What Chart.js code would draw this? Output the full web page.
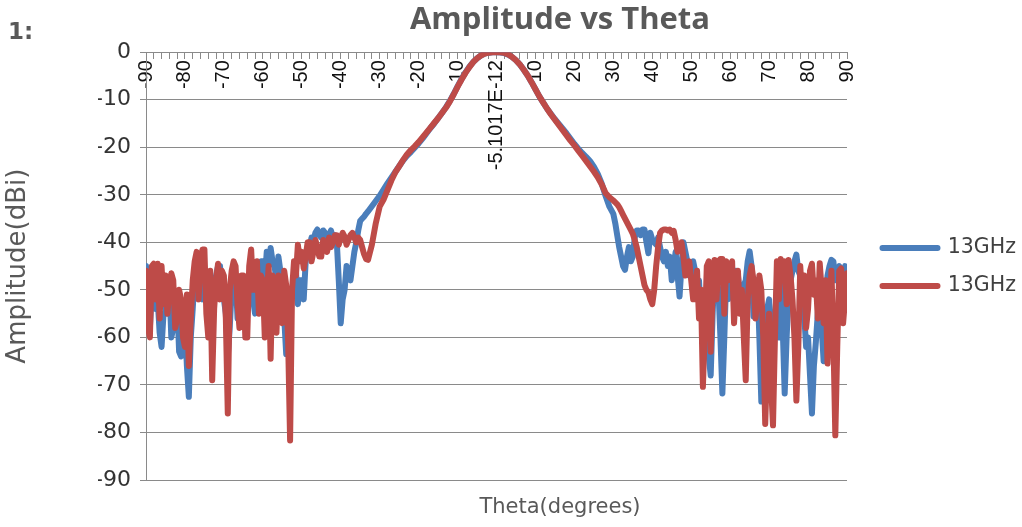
<!DOCTYPE html>
<html><head><meta charset="utf-8">
<script src="https://cdn.jsdelivr.net/npm/chart.js@4.4.0/dist/chart.umd.min.js"></script>
<style>
html,body{margin:0;padding:0;background:#fff;}
#wrap{position:relative;width:1022px;height:527px;}
#num{position:absolute;left:8px;top:20px;font:bold 23px/23px "DejaVu Sans";color:#595959;}
</style></head><body>
<div id="wrap"><canvas id="c" width="1022" height="527"></canvas><div id="num">1:</div></div>
<script>
// Theta (degrees): 0.5° steps in the side-lobe regions, 1° steps across the main lobe
const theta = [
  -90,-89.5,-89,-88.5,-88,-87.5,-87,-86.5,-86,-85.5,-85,-84.5,-84,-83.5,-83,-82.5,-82,-81.5,-81,-80.5,
  -80,-79.5,-79,-78.5,-78,-77.5,-77,-76.5,-76,-75.5,-75,-74.5,-74,-73.5,-73,-72.5,-72,-71.5,-71,-70.5,
  -70,-69.5,-69,-68.5,-68,-67.5,-67,-66.5,-66,-65.5,-65,-64.5,-64,-63.5,-63,-62.5,-62,-61.5,-61,-60.5,
  -60,-59.5,-59,-58.5,-58,-57.5,-57,-56.5,-56,-55.5,-55,-54.5,-54,-53.5,-53,-52.5,-52,-51.5,-51,-50.5,
  -50,-49.5,-49,-48.5,-48,-47.5,-47,-46.5,-46,-45.5,-45,-44.5,-44,-43.5,-43,-42.5,-42,-41.5,-41,-40.5,
  -40,-39.5,-39,-38.5,-38,-37.5,-37,-36.5,-36,-35.5,-35,-34.5,-34,-33.5,
  -33,-32,-31,-30,-29,-28,-27,-26,-25,-24,-23,-22,-21,-20,-19,-18,-17,-16,-15,-14,-13,-12,-11,-10,
  -9,-8,-7,-6,-5,-4,-3,-2,-1,0,1,2,3,4,5,6,7,8,9,10,11,12,13,14,15,16,17,18,19,20,21,22,23,24,25,26,27,28,29,
  30,30.5,31,31.5,32,32.5,33,33.5,34,34.5,35,35.5,36,36.5,37,37.5,38,38.5,39,39.5,
  40,40.5,41,41.5,42,42.5,43,43.5,44,44.5,45,45.5,46,46.5,47,47.5,48,48.5,49,49.5,
  50,50.5,51,51.5,52,52.5,53,53.5,54,54.5,55,55.5,56,56.5,57,57.5,58,58.5,59,59.5,
  60,60.5,61,61.5,62,62.5,63,63.5,64,64.5,65,65.5,66,66.5,67,67.5,68,68.5,69,69.5,
  70,70.5,71,71.5,72,72.5,73,73.5,74,74.5,75,75.5,76,76.5,77,77.5,78,78.5,79,79.5,
  80,80.5,81,81.5,82,82.5,83,83.5,84,84.5,85,85.5,86,86.5,87,87.5,88,88.5,89,89.5,90
];
// Amplitude (dBi), first 13GHz series (blue)
const blue13GHz = [
  -45,-55, -58,-50, -46,-54, -52,-59, -62,-55, -55,-50, -49,-60, -58,-52, -52,-63, -64,-56,
  -57,-66, -72.5,-60, -54,-47, -48,-45, -46,-52, -50,-48, -56,-49, -60,-48, -47,-45, -45,-50,
  -52,-55, -64,-58, -50,-46, -47,-56, -55,-48, -49,-58, -52,-47, -46,-52, -55,-46, -47,-44,
  -44,-48, -42,-45, -41.2,-44, -45,-48, -43,-46, -50,-56, -63.5,-60, -57,-50, -49,-46, -53,-48,
  -48,-52, -44,-42, -41,-39, -39.5,-38, -37.3,-38.5, -39,-37.5, -38,-39, -38.5,-37.5, -39,-38.5, -40,-48,
  -57,-52, -50,-45, -46.4,-48, -45,-42, -40,-37.5, -35.5,-35, -34.6,-34,
  -33.5,-32.4,-31.3,-30.2,-28.9,-27.6,-26.4,-25.2,-24.0,-22.8,
  -21.8,-21.0,-20.1,-19.2,-18.2,-17.1,-16.0,-15.0,-13.9,-12.8,
  -11.6,-10.3,-8.8,-7.2,-5.7,-4.3,-3.1,-2.1,-1.3,-0.7,
  -0.3,-0.1,0,0,-0.05,-0.2,-0.5,-1.0,-1.7,-2.6,
  -3.7,-4.9,-6.3,-7.8,-9.3,-10.6,-11.9,-13.0,-14.1,-15.1,
  -16.1,-17.1,-18.2,-19.3,-20.3,-21.2,-22.0,-22.9,-24.1,-25.6,
  -27.6,-30.2,-32.5,
  -34.0,-36, -38.5,-41, -43.0,-45, -45.8,-43, -41.0,-44, -43.0,-39, -37.5,-37.5, -38.5,-37.3, -37.3,-40, -42.3,-38,
  -39.4,-40, -40.5,-39, -41.0,-43, -44.0,-42, -45.0,-43, -48.0,-45, -42.0,-47, -51.4,-45, -40.0,-42, -44.0,-47,
  -45.0,-44, -46.0,-50, -48.0,-56, -52.0,-62, -58.0,-64, -68.0,-55, -45.0,-48, -50.0,-60, -71.8,-60, -47.0,-52,
  -46.0,-49, -50.0,-46, -47.0,-51, -53.0,-49, -48.0,-44, -41.9,-45, -55.6,-50, -48.0,-60, -73.5,-66, -60.0,-54,
  -52.0,-62, -66.0,-56, -50.0,-60, -45.0,-58, -71.8,-60, -51.0,-48, -46.0,-44, -42.6,-46, -47.0,-52, -55.0,-62,
  -60.0,-68, -76.0,-66, -61.0,-55, -50.0,-58, -65.0,-52, -47.0,-45, -43.7,-44, -48.0,-46, -45.0,-48, -47.0,-45, -49.0
];
// Amplitude (dBi), second 13GHz series (red)
const red13GHz = [
  -46,-58, -60,-45, -44.5,-52, -44.5,-56, -45,-53, -47,-55, -50,-46.5, -48,-58, -56,-50, -52,-60,
  -62,-51, -66,-56, -48,-44, -42,-52, -44,-41.5, -41.5,-55, -60,-46, -69,-54, -48,-44.5, -52,-46,
  -47,-56, -76,-50, -46,-44, -45,-53, -58,-47, -47,-60, -60,-45, -41.5,-50, -50,-44, -55,-47,
  -48,-60, -52,-45, -64.5,-47, -50,-59, -47,-53, -57,-46, -49,-61, -81.7,-50, -44,-47, -40.5,-44,
  -42,-45.5, -43,-40, -40,-44, -42,-39.5, -41,-43, -43,-39.5, -40.5,-42, -39,-41, -40,-38.5, -38.5,-40.5,
  -39,-38, -38.8,-40.5, -39.5,-38.5, -38,-39, -40,-39, -39.5,-41, -42.5,-43.5,
  -43.7,-40.5,-36,-32.5,-31,-29,-27,-25.3,-24.0,-22.7,
  -21.5,-20.6,-19.8,-18.9,-17.9,-16.9,-15.9,-14.9,-13.9,-12.8,
  -11.7,-10.4,-8.9,-7.3,-5.8,-4.4,-3.2,-2.1,-1.3,-0.7,
  -0.3,-0.1,0,0,0,-0.15,-0.45,-1.0,-1.7,-2.6,
  -3.7,-4.9,-6.3,-7.8,-9.3,-10.6,-11.9,-13.1,-14.2,-15.3,
  -16.4,-17.5,-18.6,-19.6,-20.7,-21.8,-22.9,-24.0,-25.1,-26.3,
  -27.8,-29.6,-30.5,
  -31.2,-31.6, -32.0,-32.6, -33.4,-34.2, -35.0,-35.8, -36.6,-37.4, -38.2,-39.5, -41.0,-43, -45.0,-47, -49.0,-50, -50.5,-52,
  -53.0,-50, -45.0,-41, -38.0,-37.5, -37.3,-37.3, -37.5,-37.3, -38.0,-37.6, -39.5,-42, -41.0,-40, -43.0,-47, -45.5,-44,
  -48.0,-52, -52.0,-46, -56.0,-50, -70.4,-58, -45.0,-44, -63.0,-50, -43.7,-52, -44.0,-43.5, -43.5,-55, -44.0,-48,
  -45.0,-44, -57.0,-50, -46.0,-55, -50.0,-60, -69.0,-52, -47.0,-45, -48.0,-56, -52.0,-47, -50.0,-60, -78.2,-65,
  -55.0,-70, -78.5,-60, -44.0,-52, -43.5,-46, -44.0,-53, -43.7,-47, -52.0,-60, -73.3,-62, -45.0,-52, -47.0,-58,
  -54.0,-46, -44.5,-51, -48.0,-56, -44.4,-50, -57.0,-48, -65.5,-55, -46.0,-60, -80.6,-62, -46.0,-45.5, -57.0,-52, -46.5
];
const xTickLabels = ['-90','-80','-70','-60','-50','-40','-30','-20','-10','-5.1017E-12','10','20','30','40','50','60','70','80','90'];
const seriesNames = ['13GHz','13GHz'];
const chartTitle = 'Amplitude vs Theta';
const xTitle = 'Theta(degrees)';
const yTitle = 'Amplitude(dBi)';

const BLUE = '#4A7EBB', RED = '#BE4B48', GRID = '#8a8a8a';
const toXY = vals => theta.map((t, i) => ({x: t, y: vals[i]}));
const lineStyle = {borderWidth: 6, pointRadius: 0, tension: 0, borderJoinStyle: 'round', borderCapStyle: 'round'};

new Chart(document.getElementById('c'), {
  type: 'line',
  data: {
    datasets: [
      Object.assign({label: seriesNames[1], data: toXY(red13GHz), borderColor: RED, backgroundColor: RED}, lineStyle),
      Object.assign({label: seriesNames[0], data: toXY(blue13GHz), borderColor: BLUE, backgroundColor: BLUE}, lineStyle)
    ]
  },
  options: {
    responsive: false, animation: false, devicePixelRatio: 1,
    layout: {padding: {left: 98, right: 0, top: 0, bottom: 0}},
    plugins: {
      title: {display: true, text: chartTitle, color: '#595959', font: {family: 'Open Sans', size: 31, weight: 'bold'}, padding: {top: 2, bottom: 13}},
      subtitle: {display: true, position: 'bottom', text: xTitle, color: '#595959', font: {family: 'DejaVu Sans', size: 21}, padding: {top: 15.4, bottom: 6.4}},
      legend: {
        position: 'right', reverse: true, maxWidth: 157,
        title: {display: true, text: '', font: {size: 5}, padding: {top: 0, bottom: 1}},
        labels: {boxWidth: 55, boxHeight: 0, padding: 17.5, color: '#404040', font: {family: 'DejaVu Sans', size: 20.5}}
      },
      tooltip: {enabled: false}
    },
    scales: {
      x: {
        type: 'linear', position: {y: 0}, min: -90, max: 90,
        ticks: {stepSize: 2, maxTicksLimit: 200, autoSkip: false, minRotation: 90, maxRotation: 90, padding: 2, color: '#111',
          font: {family: 'Liberation Sans', size: 20},
          callback: v => (v % 10 === 0 ? xTickLabels[(v + 90) / 10] : '')},
        grid: {drawOnChartArea: false, tickLength: 6, color: GRID},
        border: {color: GRID}
      },
      y: {
        type: 'linear', position: 'left', min: -90, max: 0,
        ticks: {stepSize: 10, padding: 9, color: '#333', font: {family: 'DejaVu Sans', size: 22}},
        grid: {color: GRID, tickLength: 6},
        border: {color: GRID},
        title: {display: true, text: yTitle, color: '#595959', font: {family: 'DejaVu Sans', size: 26}, padding: {top: -95, bottom: 0}},
        afterFit: s => { s.width = 48; }
      },
      y2: {
        position: 'right', display: true, grid: {display: false}, border: {display: false}, ticks: {display: false},
        afterFit: s => { s.width = 18; }
      }
    }
  }
});
</script>
</body></html>
